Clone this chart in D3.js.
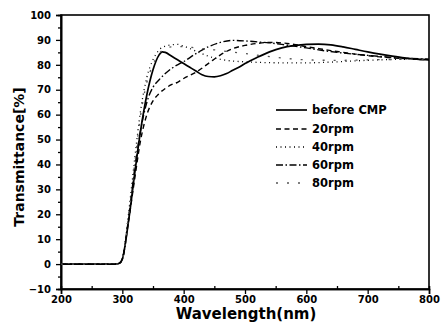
<!DOCTYPE html>
<html><head><meta charset="utf-8">
<script src="https://cdn.jsdelivr.net/npm/d3@7"></script>
<style>body{margin:0;background:#fff}svg{display:block}text{font-family:"DejaVu Sans",sans-serif;font-weight:bold;fill:#000}</style>
</head><body><svg id="c" width="443" height="334"></svg>
<script>
const seriesNames = ["before CMP","20rpm","40rpm","60rpm","80rpm"];
const wlBefore = [200,250,290,295,300,310,320,330,340,350,360,365,370,380,390,400,410,420,430,440,450,460,470,480,490,500,520,540,560,580,600,620,640,660,680,700,720,740,760,780,800];
const tBefore  = [0,0,0,0.3,2,17,36,54,68,78,84,85.2,85,83.5,82,80.5,79,77.5,76,75.3,75.2,75.6,76.5,77.8,79,80.5,83,85.2,86.8,87.7,88.2,88.3,88,87.2,86.2,85.2,84.3,83.5,82.8,82.3,82];
const wl20 = [200,250,290,295,300,310,320,330,340,350,360,370,380,390,400,420,440,460,480,500,520,540,560,580,600,620,640,660,680,700,720,740,760,780,800];
const t20  = [0,0,0,0.3,2,17,34,50,60,65.5,68.5,70.5,72,73,74.5,77,80.5,84,86.5,87.8,88.6,89,88.8,88.2,87.3,86.5,85.7,85,84.3,83.7,83.2,82.8,82.5,82.2,82];
const wl40 = [200,250,290,295,300,310,320,330,340,350,360,370,380,390,400,420,440,460,480,500,520,560,600,650,700,750,800];
const t40  = [0,0,0,0.3,2,20,42,62,75,82,86,87.5,88,88.2,87.5,85.5,83.5,82.2,81.5,81.2,81,80.8,80.8,81.2,81.8,82.2,82.3];
const wl60 = [200,250,290,295,300,310,320,330,340,350,360,370,380,390,400,420,440,460,480,500,520,540,560,580,600,620,650,700,750,800];
const t60  = [0,0,0,0.3,2,18,38,54,65,71,74,76.5,78.5,80,81.3,84.5,87.2,89,89.8,89.6,89.2,88.8,88.2,87.5,86.8,86,85,83.8,82.8,82.3];
const wl80 = [200,250,290,295,300,310,320,330,340,350,360,370,380,400,420,450,500,550,600,650,700,800];
const t80  = [0,0,0,0.3,2,19,40,60,73,80,84.5,86.5,87.2,87.3,86.8,86,84.5,83,82,81.8,82,82.3];
const xTicks = [200,300,400,500,600,700,800];
const yTicks = [-10,0,10,20,30,40,50,60,70,80,90,100];
const xTitle = "Wavelength(nm)";
const yTitle = "Transmittance[%]";

const data = [
  {name:seriesNames[0], wl:wlBefore, t:tBefore, dash:null, w:1.7, color:"#000"},
  {name:seriesNames[1], wl:wl20, t:t20, dash:"5,3.5", w:1.4, color:"#000"},
  {name:seriesNames[2], wl:wl40, t:t40, dash:"1,3.5", w:1.3, color:"#000"},
  {name:seriesNames[3], wl:wl60, t:t60, dash:"7,2.5,1.5,2.5", w:1.4, color:"#000"},
  {name:seriesNames[4], wl:wl80, t:t80, dash:"2,9", w:1.3, color:"#555"}
];

const svg = d3.select("#c");
const L=61, R=429, T=15, B=289;
const x = d3.scaleLinear().domain([200,800]).range([L,R]);
const y = d3.scaleLinear().domain([-10,100]).range([B,T]);

svg.append("rect").attr("x",L).attr("y",T).attr("width",R-L).attr("height",B-T)
  .attr("fill","none").attr("stroke","#000").attr("stroke-width",1.6);

const xAxis = svg.append("g").attr("transform",`translate(0,${B})`)
  .call(d3.axisBottom(x).tickValues(xTicks).tickSize(5).tickPadding(2).tickFormat(d3.format("d")));
const xMinor = svg.append("g").attr("transform",`translate(0,${B})`)
  .call(d3.axisBottom(x).tickValues(d3.range(250,800,100)).tickSize(-3).tickFormat(""));
const yAxis = svg.append("g").attr("transform",`translate(${L},0)`)
  .call(d3.axisLeft(y).tickValues(yTicks).tickSize(5).tickPadding(5).tickFormat(d3.format("d")));
const yMinor = svg.append("g").attr("transform",`translate(${L},0)`)
  .call(d3.axisLeft(y).tickValues(d3.range(-5,100,10)).tickSize(3).tickFormat(""));
[xAxis,xMinor,yAxis,yMinor].forEach(g=>{
  g.select(".domain").attr("stroke","#000").attr("stroke-width",1.6);
  g.selectAll(".tick line").attr("stroke","#000").attr("stroke-width",1.3);
  g.selectAll(".tick text").style("font-size","10px").style("font-weight","bold").attr("fill","#000");
});

const line = d3.line().curve(d3.curveMonotoneX).x(d=>x(d[0])).y(d=>y(d[1]));
data.forEach(s=>{
  const pts = s.wl.map((w,i)=>[w,s.t[i]]);
  svg.append("path").datum(pts).attr("d",line).attr("fill","none")
    .attr("stroke",s.color).attr("stroke-width",s.w)
    .attr("stroke-dasharray",s.dash);
});

const legY = [110,129,147,165,183];
data.forEach((s,i)=>{
  svg.append("line").attr("x1",276).attr("x2",307).attr("y1",legY[i]).attr("y2",legY[i])
    .attr("stroke",s.color).attr("stroke-width",s.w).attr("stroke-dasharray",s.dash);
  svg.append("text").attr("x",312).attr("y",legY[i]+4).style("font-size","11.5px").text(s.name);
});

svg.append("text").attr("x",246).attr("y",319).attr("text-anchor","middle")
  .style("font-size","15px").text(xTitle);
svg.append("text").attr("transform","translate(24,157) rotate(-90)").attr("text-anchor","middle")
  .style("font-size","14px").text(yTitle);
</script></body></html>
